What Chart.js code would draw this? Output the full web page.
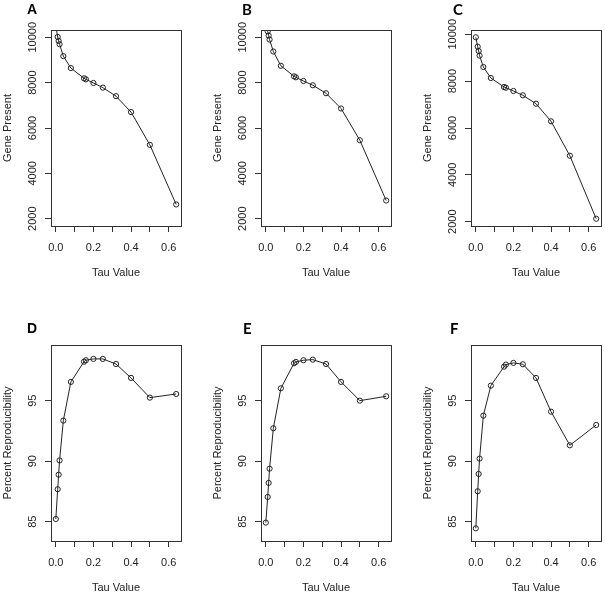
<!DOCTYPE html>
<html>
<head>
<meta charset="utf-8">
<script src="https://cdn.jsdelivr.net/npm/chart.js@4.4.1/dist/chart.umd.min.js"></script>
<style>
    html, body { margin: 0; padding: 0; background: #fff; overflow: hidden; }
    .panel { position: absolute; width: 200px; height: 298px; }
</style>
</head>
<body>
<div class="panel" style="left:0px;top:0px"><canvas id="chart-a" width="200" height="298"></canvas></div>
<div class="panel" style="left:210px;top:0px"><canvas id="chart-b" width="200" height="298"></canvas></div>
<div class="panel" style="left:420px;top:0px"><canvas id="chart-c" width="200" height="298"></canvas></div>
<div class="panel" style="left:0px;top:298px"><canvas id="chart-d" width="200" height="298"></canvas></div>
<div class="panel" style="left:210px;top:298px"><canvas id="chart-e" width="200" height="298"></canvas></div>
<div class="panel" style="left:420px;top:298px"><canvas id="chart-f" width="200" height="298"></canvas></div>
<script>
// tau thresholds (x) shared by every panel
const tauValues = [0, 0.01, 0.015, 0.02, 0.04, 0.08, 0.15, 0.16, 0.2, 0.25, 0.32, 0.4, 0.5, 0.64];

// genes present (top row)
const genesA = [10500, 10013, 9838, 9693, 9168, 8642, 8191, 8146, 7985, 7780, 7403, 6702, 5257, 2630];
const genesB = [10600, 10263, 10073, 9898, 9372, 8743, 8278, 8234, 8072, 7884, 7533, 6861, 5460, 2803];
const genesC = [9872, 9471, 9287, 9087, 8604, 8134, 7750, 7720, 7580, 7396, 7037, 6286, 4817, 2128];

// percent reproducibility (bottom row)
const reproD = [85.22, 87.68, 88.88, 90.06, 93.35, 96.55, 98.22, 98.34, 98.45, 98.45, 98.03, 96.88, 95.25, 95.55];
const reproE = [84.92, 87.04, 88.2, 89.38, 92.72, 96.02, 98.09, 98.2, 98.34, 98.39, 98.03, 96.55, 95.0, 95.36];
const reproF = [84.45, 87.51, 88.94, 90.21, 93.76, 96.24, 97.81, 97.98, 98.12, 98.01, 96.88, 94.09, 91.31, 92.99];

// axes
const xTicks = [0, 0.1, 0.2, 0.3, 0.4, 0.5, 0.6];
const xTickLabels = ['0.0', '', '0.2', '', '0.4', '', '0.6'];
const geneTicks = [2000, 4000, 6000, 8000, 10000];
const reproTicks = [85, 90, 95];
const xRange = [-0.0256, 0.6656];
const geneRangeAB = [1680, 10320];
const geneRangeC = [1818, 10182];
const reproRange = [83.4, 99.6];

const FONT = '"Liberation Sans", Arial, sans-serif';
const INK = '#222';

// frame, rotated y labels, titles and panel letter
const panelDecor = {
    id: 'panelDecor',
    afterDraw(chart, args, opts) {
        const { ctx, chartArea: a, scales } = chart;
        ctx.save();
        ctx.strokeStyle = '#333';
        ctx.lineWidth = 1;
        ctx.strokeRect(a.left + 0.5, a.top + 0.5, a.right - a.left, a.bottom - a.top);

        ctx.fillStyle = INK;
        ctx.font = '11px ' + FONT;
        ctx.textAlign = 'center';
        ctx.textBaseline = 'middle';
        scales.y.ticks.forEach(t => {
            const py = scales.y.getPixelForValue(t.value);
            ctx.save();
            ctx.translate(a.left - 18, py);
            ctx.rotate(-Math.PI / 2);
            ctx.fillText(String(t.value), 0, 0);
            ctx.restore();
        });

        ctx.save();
        ctx.translate(a.left - 43, (a.top + a.bottom) / 2);
        ctx.rotate(-Math.PI / 2);
        ctx.fillText(opts.yTitle, 0, 0);
        ctx.restore();

        ctx.fillText('Tau Value', (a.left + a.right) / 2, a.bottom + 47);

        ctx.font = opts.letterFont;
        ctx.fillStyle = '#000';
        ctx.textAlign = 'left';
        ctx.fillText(opts.letter, a.left + opts.letterDx, a.top + opts.letterDy);
        ctx.restore();
    }
};

function drawPanel(id, letter, values, yRange, yTicks, yTitle, row, letterDx, letterFont) {
    const top = row === 0 ? 30 : 47;
    const bottom = row === 0 ? 226 : 243;
    new Chart(document.getElementById(id), {
        type: 'line',
        data: {
            labels: tauValues,
            datasets: [{
                data: tauValues.map((t, i) => ({ x: t, y: values[i] })),
                borderColor: INK,
                borderWidth: 1,
                pointRadius: 2.6,
                pointBorderWidth: 1,
                pointBorderColor: INK,
                pointBackgroundColor: 'rgba(0,0,0,0)',
                tension: 0,
                clip: 0
            }]
        },
        options: {
            responsive: false,
            animation: false,
            layout: { padding: { left: 0, right: 19, top: top, bottom: 0 } },
            plugins: {
                legend: { display: false },
                tooltip: { enabled: false },
                panelDecor: {
                    letter: letter,
                    yTitle: yTitle,
                    letterDx: letterDx,
                    letterDy: row === 0 ? -20 : -16,
                    letterFont: letterFont
                }
            },
            scales: {
                x: {
                    type: 'linear',
                    min: xRange[0],
                    max: xRange[1],
                    afterBuildTicks: s => { s.ticks = xTicks.map(v => ({ value: v })); },
                    afterFit: s => { s.height = 298 - bottom; },
                    border: { display: false },
                    grid: { drawOnChartArea: false, drawTicks: true, tickLength: 6, color: '#333' },
                    ticks: {
                        autoSkip: false,
                        maxRotation: 0,
                        padding: 9,
                        color: INK,
                        font: { family: FONT, size: 11 },
                        callback: (v, i) => xTickLabels[i]
                    }
                },
                y: {
                    type: 'linear',
                    min: yRange[0],
                    max: yRange[1],
                    afterBuildTicks: s => { s.ticks = yTicks.map(v => ({ value: v })); },
                    afterFit: s => { s.width = 51; },
                    border: { display: false },
                    grid: { drawOnChartArea: false, drawTicks: true, tickLength: 6, color: '#333' },
                    ticks: { display: false }
                }
            }
        },
        plugins: [panelDecor]
    });
}

const boldArial = 'bold 14px ' + FONT;
const boldLato = 'bold 15px Lato, "Open Sans", sans-serif';

drawPanel('chart-a', 'A', genesA, geneRangeAB, geneTicks, 'Gene Present', 0, -24, boldArial);
drawPanel('chart-b', 'B', genesB, geneRangeAB, geneTicks, 'Gene Present', 0, -19, boldLato);
drawPanel('chart-c', 'C', genesC, geneRangeC, geneTicks, 'Gene Present', 0, -18, boldLato);
drawPanel('chart-d', 'D', reproD, reproRange, reproTicks, 'Percent Reproducibility', 1, -24, boldArial);
drawPanel('chart-e', 'E', reproE, reproRange, reproTicks, 'Percent Reproducibility', 1, -18, boldLato);
drawPanel('chart-f', 'F', reproF, reproRange, reproTicks, 'Percent Reproducibility', 1, -21, boldLato);
</script>
</body>
</html>
